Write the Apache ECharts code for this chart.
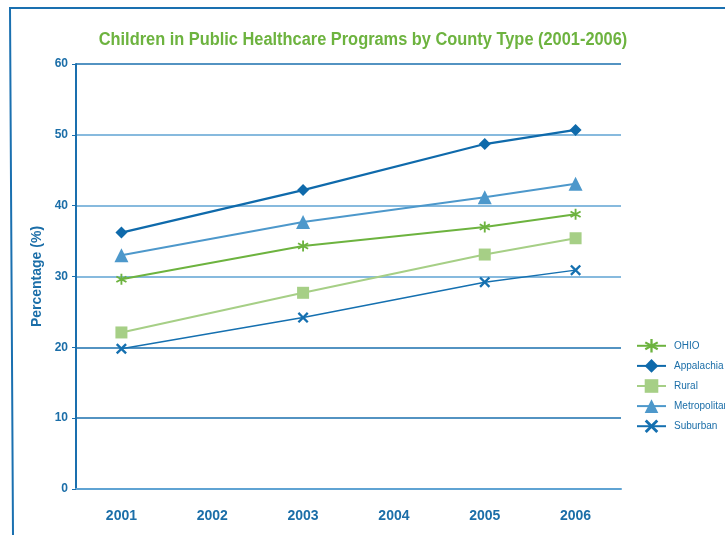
<!DOCTYPE html>
<html>
<head>
<meta charset="utf-8">
<script src="https://cdn.jsdelivr.net/npm/echarts@6/dist/echarts.min.js"></script>
<style>
  html, body { margin: 0; padding: 0; background: #fff; }
  #chart { width: 725px; height: 535px; }
</style>
</head>
<body>
<div id="chart"></div>
<script>
  // years on the x axis; no data for 2002 and 2004
  const YEARS = ['2001', '2002', '2003', '2004', '2005', '2006']
  const OHIO = [29.6, null, 34.3, null, 37.0, 38.8]
  const APPALACHIA = [36.2, null, 42.2, null, 48.7, 50.7]
  const RURAL = [22.1, null, 27.7, null, 33.1, 35.4]
  const METROPOLITAN = [33.0, null, 37.7, null, 41.2, 43.1]
  const SUBURBAN = [19.8, null, 24.2, null, 29.2, 30.9]
  const Y_TICKS = [0, 10, 20, 30, 40, 50, 60]

  const TITLE = 'Children in Public Healthcare Programs by County Type (2001-2006)'
  const BLUE = '#1a6fae'
  const TEXT_BLUE = '#1b6ea8'

  const ASTERISK = 'path://M4.2,0 L5.8,0 L5.8,10 L4.2,10 Z ' +
    'M0.27,3.19 L1.07,1.81 L9.73,6.81 L8.93,8.19 Z ' +
    'M1.07,8.19 L0.27,6.81 L8.93,1.81 L9.73,3.19 Z'
  const CROSS = 'path://M0,1.5 L1.5,0 L5,3.5 L8.5,0 L10,1.5 L6.5,5 L10,8.5 L8.5,10 L5,6.5 L1.5,10 L0,8.5 L3.5,5 Z'

  function lineSeries (name, data, color, symbol, size, width) {
    return {
      name,
      type: 'line',
      data,
      connectNulls: true,
      symbol,
      symbolSize: size,
      showAllSymbol: true,
      lineStyle: { color, width },
      itemStyle: { color },
      emphasis: { disabled: true }
    }
  }

  const chart = echarts.init(document.getElementById('chart'))
  chart.setOption({
    animation: false,
    legend: {
      orient: 'vertical',
      left: 636,
      top: 339,
      padding: 0,
      itemWidth: 29,
      itemHeight: 17,
      itemGap: 6.5,
      textStyle: {
        color: TEXT_BLUE,
        fontSize: 10,
        fontFamily: 'Liberation Sans',
        padding: [0, 0, 0, 3]
      },
      data: ['OHIO', 'Appalachia', 'Rural', 'Metropolitan', 'Suburban']
    },
    grid: { left: 76, right: 104, top: 64, bottom: 46 },
    xAxis: [{
      type: 'category',
      data: YEARS,
      boundaryGap: true,
      axisLine: { lineStyle: { color: '#5fa3d3', width: 2 } },
      axisTick: { length: 5, lineStyle: { color: BLUE } },
      axisLabel: {
        margin: 20,
        color: TEXT_BLUE,
        fontWeight: 'bold',
        fontSize: 14,
        fontFamily: 'Liberation Sans'
      }
    }, {
      type: 'category',
      data: YEARS,
      position: 'bottom',
      boundaryGap: true,
      axisLine: { show: false },
      axisTick: { inside: true, length: 5, lineStyle: { color: BLUE } },
      axisLabel: { show: false }
    }],
    yAxis: {
      type: 'value',
      min: Y_TICKS[0],
      max: Y_TICKS[Y_TICKS.length - 1],
      interval: 10,
      name: 'Percentage (%)',
      nameLocation: 'middle',
      nameGap: 31,
      nameTextStyle: {
        color: TEXT_BLUE,
        fontWeight: 'bold',
        fontSize: 14,
        fontFamily: 'Liberation Sans'
      },
      axisLine: { show: true, lineStyle: { color: BLUE, width: 2 } },
      axisTick: { show: true, length: 4, lineStyle: { color: BLUE } },
      axisLabel: {
        margin: 8,
        color: TEXT_BLUE,
        fontWeight: 'bold',
        fontSize: 12,
        fontFamily: 'Liberation Sans'
      },
      splitLine: {
        lineStyle: {
          width: 1.5,
          color: ['#5fa3d3', '#1a6fae', '#1a6fae', '#5fa3d3', '#5fa3d3', '#5fa3d3', '#1a6fae']
        }
      }
    },
    graphic: [{
      type: 'polyline',
      silent: true,
      shape: { points: [[725, 8], [10, 8], [13, 535]] },
      style: { stroke: '#1a70b0', lineWidth: 2, fill: null }
    }, {
      // condensed title: no narrow font installed, so squeeze horizontally
      type: 'text',
      silent: true,
      x: 363,
      y: 40,
      scaleX: 0.91,
      style: {
        text: TITLE,
        fill: '#6db33f',
        fontFamily: 'Liberation Sans',
        fontWeight: 'bold',
        fontSize: 18,
        align: 'center',
        verticalAlign: 'middle'
      }
    }],
    series: [
      lineSeries('OHIO', OHIO, '#6db33f', ASTERISK, 11, 2),
      lineSeries('Appalachia', APPALACHIA, '#0f6aab', 'diamond', 12, 2.2),
      lineSeries('Rural', RURAL, '#a6cf86', 'rect', 12, 2),
      lineSeries('Metropolitan', METROPOLITAN, '#4d98cb', 'triangle', 14, 2),
      lineSeries('Suburban', SUBURBAN, '#1570b0', CROSS, 11, 1.5)
    ]
  })
</script>
</body>
</html>
